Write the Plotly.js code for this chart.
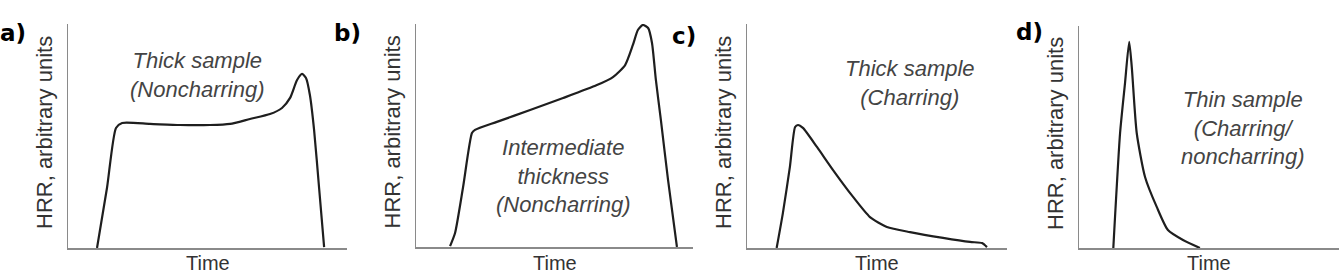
<!DOCTYPE html>
<html>
<head>
<meta charset="utf-8">
<script src="https://cdn.plot.ly/plotly-3.0.1.min.js"></script>
<style>html,body{margin:0;padding:0;background:#fff;}#chart{width:1339px;height:275px;}</style>
</head>
<body>
<div id="chart"></div>
<script>
// Panel a) thick sample, noncharring
const timeA = [10.4, 14, 17.2, 19.4, 29.4, 40.1, 50.9, 58.1, 65.2, 72.4, 76.7, 79.6, 82.1, 83.9, 85.3, 86.7, 88.2, 90, 91.8];
const hrrA  = [0, 27, 53.6, 55.8, 55.4, 54.9, 54.9, 55.4, 57.6, 59.8, 62.5, 67, 75, 77.7, 75.9, 68.3, 52.7, 26.8, 0.4];
// Panel b) intermediate thickness, noncharring
const timeB = [12.3, 14.1, 17, 20.2, 21.3, 29.2, 41.2, 53.1, 65.3, 71.1, 75.5, 78.3, 80.1, 81.9, 83.8, 85.2, 86.6, 88.4, 91, 94.2];
const hrrB  = [0.4, 6.3, 26.9, 51.1, 52.5, 56.1, 61.4, 66.8, 72.6, 76.2, 81.6, 90.6, 97.3, 99.6, 98.2, 91.5, 74.9, 57, 30, 0];
// Panel c) thick sample, charring
const timeC = [11.4, 13.8, 16.5, 18.5, 19.6, 21.5, 26.9, 33.1, 40.8, 47.3, 53.8, 62.7, 75.4, 85.8, 90.4, 92.3];
const hrrC  = [0, 15.6, 36.2, 54, 54.9, 53.6, 45.1, 34.8, 22.8, 13.8, 9.4, 7.1, 4.5, 2.7, 2.2, 0.4];
// Panel d) thin sample, charring/noncharring
const timeD = [13.2, 15.8, 17.7, 19.3, 20.3, 22.2, 25.4, 29.9, 34.2, 40, 46.5];
const hrrD  = [0, 51.8, 74.3, 92.9, 81.5, 51.8, 32, 18.5, 8.1, 3.6, 0];

const panelLabels = ["a)", "b)", "c)", "d)"];
const panelNotes = [
  "Thick sample<br>(Noncharring)",
  "Intermediate<br>thickness<br>(Noncharring)",
  "Thick sample<br>(Charring)",
  "Thin sample<br>(Charring/<br>noncharring)"
];
const yTitle = "HRR, arbitrary units";
const xTitle = "Time";

const W = 1339, H = 275;
const boxes = [
  {x0: 68, x1: 347, y0: 24, y1: 248},
  {x0: 416, x1: 693, y0: 24, y1: 247},
  {x0: 747, x1: 1007, y0: 24, y1: 248},
  {x0: 1079, x1: 1339, y0: 26, y1: 248}
];
const notePos = [[197, 75], [563, 176], [910, 83], [1243, 128]];
const labelPos = [[13, 33], [347, 33], [684, 36], [1029, 32]];

const xs = [timeA, timeB, timeC, timeD];
const ys = [hrrA, hrrB, hrrC, hrrD];

const data = [];
const layout = {
  width: W, height: H,
  margin: {l: 0, r: 0, t: 0, b: 0},
  paper_bgcolor: "#fff", plot_bgcolor: "#fff",
  showlegend: false,
  font: {family: "Liberation Sans, Arial, sans-serif", color: "#333"},
  annotations: []
};

for (let i = 0; i < 4; i++) {
  const sfx = i === 0 ? "" : String(i + 1);
  data.push({
    x: xs[i], y: ys[i], type: "scatter", mode: "lines",
    line: {color: "#1e1e1e", width: 2.2, shape: "spline", smoothing: 0.6},
    xaxis: "x" + sfx, yaxis: "y" + sfx, hoverinfo: "skip"
  });
  const b = boxes[i];
  const axCommon = {showgrid: false, zeroline: false, showticklabels: false, ticks: "",
    showline: true, linecolor: "#8a8a8a", fixedrange: true};
  layout["xaxis" + sfx] = Object.assign({}, axCommon, {
    domain: [b.x0 / W, b.x1 / W], range: [0, 100], anchor: "y" + sfx, linewidth: 2
  });
  layout["yaxis" + sfx] = Object.assign({}, axCommon, {
    domain: [1 - b.y1 / H, 1 - b.y0 / H], range: [0, 100], anchor: "x" + sfx, linewidth: 1.2
  });
  // y title
  layout.annotations.push({
    xref: "paper", yref: "paper", x: (b.x0 - 24) / W, y: 1 - ((b.y0 + b.y1) / 2 - 3) / H,
    text: yTitle, textangle: -90, showarrow: false,
    font: {size: 22, color: "#333", family: "Liberation Sans, Arial, sans-serif"},
    xanchor: "center", yanchor: "middle"
  });
  // x title
  layout.annotations.push({
    xref: "paper", yref: "paper", x: ((b.x0 + b.x1) / 2) / W, y: 1 - 263 / H,
    text: xTitle, showarrow: false,
    font: {size: 20, color: "#333", family: "Liberation Sans, Arial, sans-serif"},
    xanchor: "center", yanchor: "middle"
  });
  // note
  layout.annotations.push({
    xref: "paper", yref: "paper", x: notePos[i][0] / W, y: 1 - notePos[i][1] / H,
    text: "<i>" + panelNotes[i] + "</i>", showarrow: false, align: "center",
    font: {size: 22, color: "#444", family: "Liberation Sans, Arial, sans-serif"},
    xanchor: "center", yanchor: "middle"
  });
  // panel label
  layout.annotations.push({
    xref: "paper", yref: "paper", x: labelPos[i][0] / W, y: 1 - labelPos[i][1] / H,
    text: "<b>" + panelLabels[i] + "</b>", showarrow: false,
    font: {size: 23, color: "#000", family: "DejaVu Sans, Verdana, sans-serif"},
    xanchor: "center", yanchor: "middle"
  });
}

Plotly.newPlot("chart", data, layout, {displayModeBar: false, staticPlot: true});
</script>
</body>
</html>
